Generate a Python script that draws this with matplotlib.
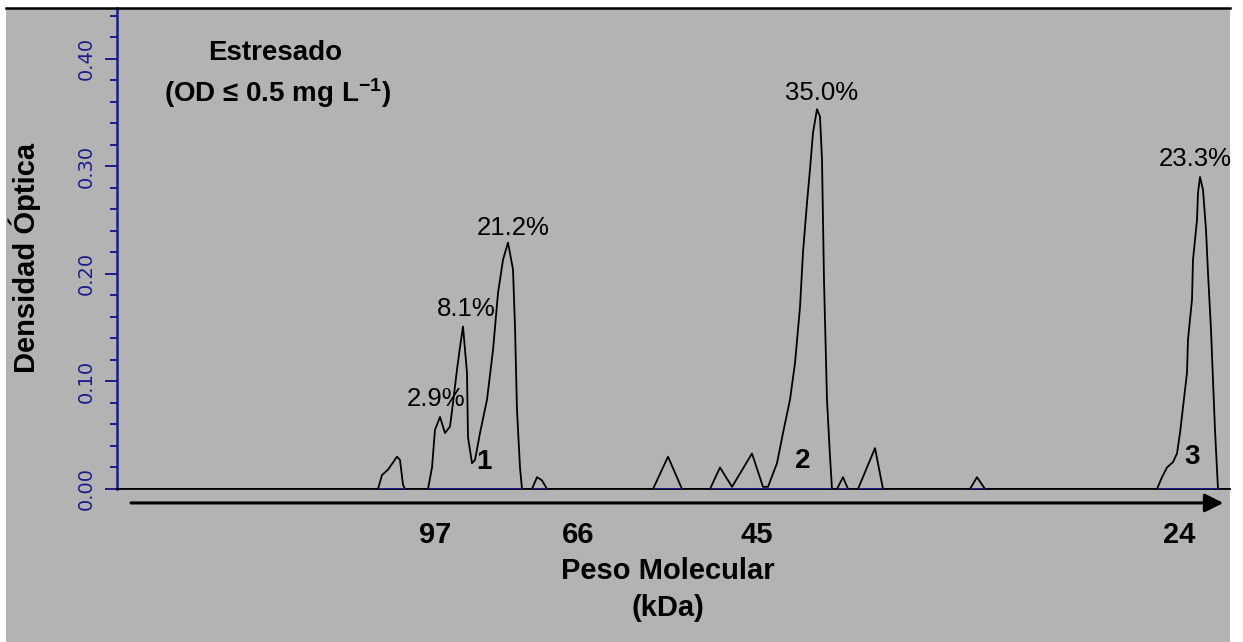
import numpy as np
import matplotlib
matplotlib.use("Agg")
import matplotlib.pyplot as plt
from matplotlib.patches import Rectangle
from matplotlib.ticker import MultipleLocator

plt.rcParams['font.family']=['Liberation Sans','DejaVu Sans']
plt.rcParams['mathtext.fontset']='custom'
plt.rcParams['mathtext.bf']='Liberation Sans:bold'
plt.rcParams['mathtext.rm']='Liberation Sans'
plt.rcParams['mathtext.default']='bf'

# densitometry trace: position along the lane (arbitrary units) and optical density
position=[0,261,265,271,280,283,286,288,
          311,315,318,323,328,333,336,340,343,346,350,351,355,358,363,370,376,381,386,391,396,398,400,403,405,
          415,420,425,430,
          536,551,565,
          593,603,615,635,646,651,660,666,673,678,683,686,690,693,696,700,703,705,707,710,713,715,
          720,726,731,
          741,758,766,
          853,860,868,
          1040,1045,1050,1056,1060,1063,1066,1070,1071,1075,1076,1080,1081,1083,1086,1089,1091,1094,1096,1098,1100,1101,
          1113]
density=[0,0,0.013,0.018,0.030,0.027,0.004,0,
         0,0.020,0.055,0.067,0.052,0.058,0.080,0.111,0.132,0.151,0.108,0.048,0.024,0.027,0.052,0.083,0.129,0.182,0.213,0.229,0.204,0.151,0.073,0.020,0,
         0,0.011,0.008,0,
         0,0.030,0,
         0,0.020,0.002,0.033,0.002,0.002,0.024,0.052,0.083,0.117,0.169,0.220,0.266,0.297,0.331,0.353,0.346,0.306,0.194,0.083,0.030,0,
         0,0.011,0,
         0,0.038,0,
         0,0.011,0,
         0,0.011,0.020,0.025,0.033,0.052,0.076,0.108,0.139,0.176,0.213,0.250,0.275,0.290,0.278,0.241,0.201,0.148,0.101,0.055,0.018,0,
         0]

# integration baselines under each peak
base_start=[261,311,415,536,593,720,741,853,1040]
base_end=[288,405,430,565,715,731,766,868,1101]

# peak percentages
pct_labels=['2.9%','8.1%','21.2%','35.0%','23.3%']
pct_x=[319,349,396,705,1078]
pct_y=[0.084,0.167,0.243,0.368,0.307]

# band numbers
band_labels=['1','2','3']
band_x=[367,686,1075]
band_y=[0.013,0.014,0.018]

# molecular weight markers (kDa)
mw_labels=['97','66','45','24']
mw_x=[318,461,640,1062]

W,H=1243,642
fig=plt.figure(figsize=(W/100,H/100),dpi=100,facecolor='white')

fig.add_artist(Rectangle((6/W,0),(1230-6)/W,(H-8)/H,transform=fig.transFigure,
                         facecolor='#b3b3b3',edgecolor='none',zorder=0))
fig.add_artist(plt.Line2D([6/W,1230/W],[(H-8)/H,(H-8)/H],transform=fig.transFigure,
                          color='black',lw=1.8,zorder=1))

ax=fig.add_axes([117/W,(H-489)/H,(1230-117)/W,(489-8)/H])
ax.set_facecolor('none')
ax.set_xlim(0,1113)
ax.set_ylim(0,0.447)

ax.plot(position,density,color='black',lw=1.3,zorder=3)
ax.hlines([0]*len(base_start),base_start,base_end,color='#1f1fc0',lw=1.8,zorder=4)

for t,x,y in zip(pct_labels,pct_x,pct_y):
    ax.text(x,y,t,ha='center',va='center',fontsize=18.5,color='black')
for t,x,y in zip(band_labels,band_x,band_y):
    ax.text(x,y,t,ha='center',va='bottom',fontsize=20,fontweight='bold',color='black')

ax.text(158,0.405,'Estresado',ha='center',va='center',fontsize=20,fontweight='bold')
ax.text(161,0.368,r'(OD ≤ 0.5 mg L$^{-1}$)',ha='center',va='center',fontsize=20,fontweight='bold')

navy='#1c1c8c'
for s in ['top','right']:
    ax.spines[s].set_visible(False)
ax.spines['left'].set_color(navy)
ax.spines['left'].set_linewidth(1.8)
ax.spines['bottom'].set_color('black')
ax.spines['bottom'].set_linewidth(1.3)

ax.yaxis.set_major_locator(MultipleLocator(0.10))
ax.yaxis.set_minor_locator(MultipleLocator(0.02))
ax.yaxis.set_major_formatter(matplotlib.ticker.FormatStrFormatter('%.2f'))
ax.tick_params(axis='y',which='major',length=9,width=1.4,color=navy,labelcolor=navy,
               labelsize=14,pad=6)
ax.tick_params(axis='y',which='minor',length=5,width=1.4,color=navy)
for lbl in ax.get_yticklabels():
    lbl.set_rotation(90)
    lbl.set_va('center')
    lbl.set_fontfamily('DejaVu Sans')

ax.set_xticks(mw_x,mw_labels)
ax.tick_params(axis='x',length=0,pad=23,labelsize=21)
for lbl in ax.get_xticklabels():
    lbl.set_fontweight('bold')

ax.annotate('',xy=(0.994,-0.029),xytext=(0.0126,-0.029),xycoords='axes fraction',
            arrowprops=dict(arrowstyle='-|>',lw=2.2,color='black',mutation_scale=28,shrinkA=0,shrinkB=0),
            annotation_clip=False)

ax.set_xlabel('Peso Molecular\n(kDa)',fontsize=21,fontweight='bold',linespacing=1.4)
ax.xaxis.set_label_coords(0.495,-0.141)
ax.set_ylabel('Densidad Óptica',fontsize=21,fontweight='bold')
ax.yaxis.set_label_coords(-0.068,0.48)

fig.savefig('out.png',dpi=100,facecolor='white')
